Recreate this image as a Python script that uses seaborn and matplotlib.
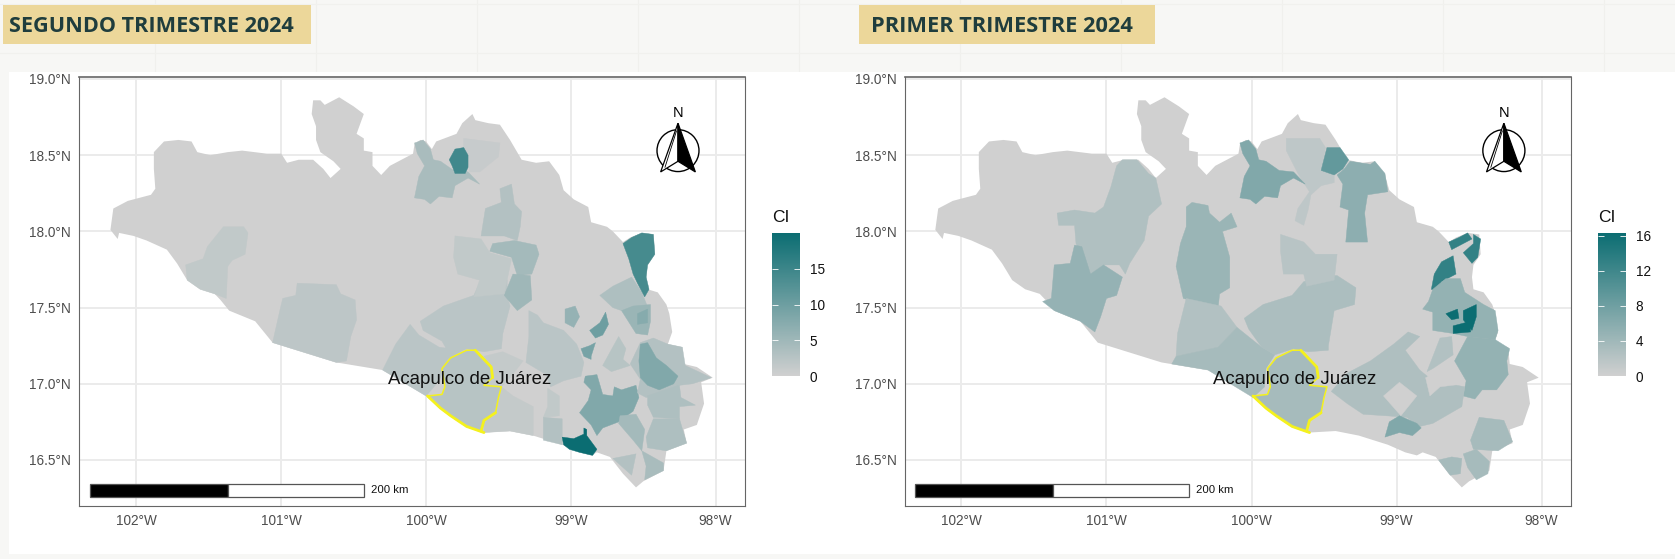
import numpy as np
import matplotlib
matplotlib.use("Agg")
import matplotlib.pyplot as plt
from matplotlib.patches import Rectangle, Polygon, Ellipse
from matplotlib.cm import ScalarMappable
from matplotlib.colors import Normalize
import seaborn as sns

# ---------- data (lon, lat) ----------
STATE = [(-102.18,18.01),(-102.16,18.15),(-102.06,18.20),(-101.90,18.24),(-101.87,18.28),(-101.88,18.41),(-101.88,18.52),(-101.81,18.59),(-101.71,18.60),(-101.62,18.59),(-101.58,18.52),(-101.49,18.50),(-101.37,18.52),(-101.27,18.53),(-101.10,18.51),(-101.0,18.51),(-100.96,18.45),(-100.88,18.47),(-100.78,18.47),(-100.71,18.41),(-100.66,18.35),(-100.59,18.41),(-100.64,18.46),(-100.73,18.52),(-100.76,18.60),(-100.76,18.69),(-100.79,18.77),(-100.78,18.86),(-100.73,18.86),(-100.70,18.83),(-100.60,18.88),(-100.50,18.82),(-100.43,18.77),(-100.48,18.64),(-100.43,18.61),(-100.43,18.53),(-100.37,18.52),(-100.37,18.43),(-100.31,18.37),(-100.25,18.43),(-100.09,18.51),(-100.08,18.57),(-100.04,18.60),(-100.0,18.59),(-99.96,18.54),(-99.93,18.59),(-99.79,18.64),(-99.75,18.71),(-99.68,18.77),(-99.66,18.73),(-99.57,18.71),(-99.49,18.70),(-99.42,18.60),(-99.34,18.47),(-99.24,18.45),(-99.15,18.46),(-99.08,18.37),(-99.05,18.27),(-98.98,18.21),(-98.88,18.16),(-98.86,18.06),(-98.75,18.03),(-98.71,18.0),(-98.64,17.93),(-98.59,17.96),(-98.51,17.99),(-98.43,17.98),(-98.42,17.85),(-98.47,17.78),(-98.48,17.70),(-98.47,17.62),(-98.40,17.60),(-98.34,17.52),(-98.32,17.46),(-98.30,17.34),(-98.33,17.26),(-98.23,17.24),(-98.22,17.13),(-98.13,17.11),(-98.02,17.04),(-98.10,17.01),(-98.08,16.87),(-98.13,16.73),(-98.22,16.70),(-98.20,16.61),(-98.34,16.56),(-98.36,16.43),(-98.50,16.36),(-98.55,16.32),(-98.64,16.41),(-98.73,16.52),(-98.82,16.55),(-98.86,16.53),(-98.94,16.55),(-99.06,16.60),(-99.26,16.66),(-99.42,16.69),(-99.60,16.68),(-99.72,16.72),(-99.83,16.79),(-99.90,16.84),(-100.0,16.92),(-100.30,17.09),(-100.62,17.14),(-101.06,17.27),(-101.18,17.41),(-101.36,17.48),(-101.42,17.55),(-101.46,17.59),(-101.56,17.62),(-101.65,17.68),(-101.72,17.79),(-101.79,17.88),(-101.93,17.94),(-102.02,17.97),(-102.12,17.99),(-102.13,17.95)]
ACAPULCO = [(-99.72,17.22),(-99.66,17.22),(-99.60,17.16),(-99.55,17.11),(-99.54,17.04),(-99.60,16.99),(-99.48,16.98),(-99.50,16.91),(-99.52,16.81),(-99.60,16.76),(-99.62,16.69),(-99.60,16.68),(-99.72,16.72),(-99.83,16.79),(-99.90,16.84),(-99.99,16.92),(-99.89,16.93),(-99.87,16.98),(-99.89,17.10),(-99.83,17.17)]
TOP = [(-100.08,18.58),(-100.02,18.60),(-99.97,18.54),(-99.95,18.47),(-99.90,18.46),(-99.81,18.40),(-99.71,18.39),(-99.63,18.31),(-99.71,18.35),(-99.80,18.30),(-99.82,18.22),(-99.91,18.23),(-99.97,18.18),(-100.01,18.21),(-100.08,18.22),(-100.05,18.36),(-100.01,18.43),(-100.06,18.51)]

# second quarter
L1 = [(-101.40,18.03),(-101.26,18.03),(-101.23,17.99),(-101.25,17.85),(-101.34,17.81),(-101.37,17.77),(-101.38,17.56),(-101.46,17.59),(-101.56,17.62),(-101.65,17.68),(-101.66,17.78),(-101.54,17.82),(-101.51,17.90)]
L2 = [(-101.06,17.27),(-101.01,17.48),(-100.99,17.56),(-100.90,17.58),(-100.89,17.66),(-100.62,17.65),(-100.59,17.59),(-100.49,17.55),(-100.48,17.42),(-100.52,17.31),(-100.55,17.15),(-100.62,17.14)]
L3 = [(-100.04,17.41),(-99.88,17.51),(-99.67,17.58),(-99.62,17.68),(-99.44,17.68),(-99.44,17.57),(-99.42,17.51),(-99.47,17.33),(-99.48,17.23),(-99.60,17.21),(-99.72,17.23),(-99.83,17.18),(-99.89,17.28),(-100.02,17.35)]
L4 = [(-100.30,17.09),(-100.21,17.26),(-100.11,17.39),(-100.05,17.32),(-99.91,17.24),(-99.75,17.22),(-99.85,17.16),(-99.91,17.02),(-100.0,16.92)]
L5 = [(-99.48,16.98),(-99.40,16.92),(-99.26,16.85),(-99.26,16.66),(-99.42,16.69),(-99.60,16.68),(-99.60,16.76),(-99.52,16.81),(-99.50,16.91)]
L6 = [(-99.60,17.18),(-99.47,17.21),(-99.33,17.15),(-99.42,17.04),(-99.48,16.98),(-99.60,16.99),(-99.54,17.04),(-99.55,17.11)]
L7 = [(-99.29,17.48),(-99.23,17.45),(-99.19,17.40),(-99.05,17.35),(-98.96,17.26),(-98.91,17.14),(-98.93,17.05),(-99.05,17.02),(-99.14,16.98),(-99.17,17.06),(-99.31,17.14),(-99.29,17.31)]
L8 = [(-99.16,16.97),(-99.08,16.92),(-99.08,16.79),(-99.19,16.78),(-99.16,16.85)]
L9 = [(-99.19,16.78),(-99.06,16.77),(-99.06,16.60),(-99.19,16.63)]
L10 = [(-99.06,16.65),(-98.98,16.64),(-98.91,16.67),(-98.91,16.71),(-98.89,16.70),(-98.89,16.66),(-98.82,16.57),(-98.85,16.53),(-98.94,16.55),(-99.01,16.57),(-99.05,16.60)]
L11 = [(-98.90,17.05),(-98.82,17.06),(-98.78,16.93),(-98.71,16.92),(-98.70,16.98),(-98.65,16.96),(-98.55,16.99),(-98.53,16.91),(-98.57,16.82),(-98.67,16.75),(-98.78,16.71),(-98.82,16.66),(-98.86,16.73),(-98.94,16.81),(-98.88,16.89),(-98.86,16.96),(-98.91,17.01)]
L_E1 = [(-98.59,17.13),(-98.52,17.27),(-98.43,17.30),(-98.33,17.26),(-98.23,17.24),(-98.21,17.12),(-98.03,17.04),(-98.16,17.0),(-98.25,16.99),(-98.39,16.93),(-98.48,16.91),(-98.54,16.94),(-98.52,17.03)]
L_OVAL = [(-98.52,17.26),(-98.47,17.27),(-98.41,17.17),(-98.34,17.12),(-98.26,17.05),(-98.29,17.0),(-98.39,16.96),(-98.47,16.99),(-98.52,17.04),(-98.53,17.15)]
L_E2 = [(-98.47,16.92),(-98.25,16.99),(-98.24,16.91),(-98.14,16.86),(-98.25,16.85),(-98.25,16.77),(-98.43,16.78),(-98.47,16.86)]
L_E3 = [(-98.43,16.77),(-98.25,16.77),(-98.20,16.61),(-98.34,16.56),(-98.47,16.58),(-98.48,16.65)]
L_E4 = [(-98.66,16.79),(-98.55,16.80),(-98.49,16.70),(-98.51,16.56),(-98.57,16.63),(-98.67,16.74)]
L_E5 = [(-98.51,16.56),(-98.36,16.48),(-98.36,16.43),(-98.49,16.37),(-98.48,16.46)]
L_E6 = [(-98.71,16.51),(-98.55,16.54),(-98.58,16.40)]
L_T1 = [(-98.80,17.58),(-98.71,17.64),(-98.58,17.70),(-98.51,17.60),(-98.46,17.48),(-98.65,17.48),(-98.71,17.50)]
L_C1 = [(-98.65,17.48),(-98.57,17.51),(-98.45,17.52),(-98.45,17.41),(-98.47,17.32),(-98.55,17.33),(-98.59,17.39)]
L_C2 = [(-98.54,17.46),(-98.47,17.49),(-98.47,17.40),(-98.54,17.39)]
L_STRIP = [(-98.64,17.92),(-98.58,17.96),(-98.51,17.99),(-98.43,17.98),(-98.42,17.85),(-98.47,17.78),(-98.48,17.70),(-98.46,17.62),(-98.49,17.57),(-98.54,17.66),(-98.57,17.72),(-98.60,17.82)]
L_BLOB = [(-99.04,17.49),(-98.97,17.51),(-98.94,17.44),(-98.98,17.37),(-99.04,17.40)]
L_D1 = [(-98.87,17.35),(-98.80,17.40),(-98.76,17.47),(-98.74,17.39),(-98.78,17.32),(-98.83,17.30)]
L_D2 = [(-98.93,17.23),(-98.87,17.25),(-98.83,17.27),(-98.86,17.18),(-98.86,17.16),(-98.91,17.18)]
L_TRI = [(-98.78,17.12),(-98.67,17.31),(-98.62,17.23),(-98.64,17.16),(-98.59,17.12),(-98.72,17.08)]
L_DARK = [(-99.84,18.47),(-99.80,18.54),(-99.74,18.55),(-99.71,18.50),(-99.71,18.42),(-99.73,18.38),(-99.80,18.38),(-99.82,18.43)]
L_PALE = [(-99.74,18.61),(-99.49,18.58),(-99.50,18.49),(-99.63,18.39),(-99.70,18.39),(-99.71,18.51),(-99.74,18.55)]
L_P1 = [(-99.49,18.28),(-99.41,18.31),(-99.39,18.18),(-99.34,18.13),(-99.35,18.03),(-99.37,17.94),(-99.46,17.97),(-99.62,17.97),(-99.59,18.15),(-99.48,18.19)]
L_P2 = [(-99.56,17.87),(-99.54,17.92),(-99.39,17.94),(-99.24,17.91),(-99.22,17.85),(-99.27,17.72),(-99.37,17.71),(-99.41,17.83)]
L_P3 = [(-99.40,17.72),(-99.28,17.71),(-99.27,17.55),(-99.37,17.48),(-99.46,17.58)]
L_P4 = [(-99.80,17.97),(-99.62,17.95),(-99.56,17.86),(-99.41,17.82),(-99.46,17.59),(-99.67,17.57),(-99.63,17.68),(-99.78,17.72),(-99.81,17.83)]

Q2_SHAPES = [L1,L2,L3,L4,L5,L6,L7,L8,L9,L10,L11,L_E1,L_OVAL,L_E2,L_E3,L_E4,L_E5,L_E6,L_T1,L_C1,L_C2,L_STRIP,L_BLOB,L_D1,L_D2,L_TRI,TOP,L_PALE,L_DARK,L_P1,L_P2,L_P3,L_P4,ACAPULCO]
Q2_VALUES = [1.5,2.0,2.2,2.2,1.2,1.2,2.2,1.5,3.0,20.0,8.0,3.0,8.0,3.5,3.5,4.5,4.0,3.0,3.5,5.5,7.5,14.0,6.0,10.0,9.0,2.5,4.0,1.0,14.5,3.0,4.5,5.0,1.5,2.5]

# first quarter
R1 = [(-101.34,18.12),(-101.22,18.14),(-101.08,18.12),(-101.02,18.16),(-100.97,18.29),(-100.93,18.43),(-100.89,18.47),(-100.79,18.47),(-100.71,18.38),(-100.66,18.35),(-100.62,18.18),(-100.71,18.10),(-100.74,17.94),(-100.84,17.79),(-100.87,17.72),(-100.91,17.78),(-101.02,17.78),(-101.11,17.72),(-101.21,17.92),(-101.22,18.04),(-101.33,18.04)]
R2 = [(-101.44,17.54),(-101.38,17.56),(-101.36,17.78),(-101.25,17.79),(-101.22,17.91),(-101.17,17.90),(-101.11,17.72),(-101.02,17.78),(-100.89,17.70),(-100.93,17.58),(-101.0,17.56),(-101.04,17.44),(-101.08,17.34),(-101.18,17.41),(-101.36,17.48)]
R3 = [(-100.45,18.16),(-100.41,18.19),(-100.30,18.17),(-100.29,18.12),(-100.22,18.06),(-100.14,18.12),(-100.10,18.03),(-100.20,18.0),(-100.15,17.83),(-100.15,17.63),(-100.22,17.59),(-100.23,17.50),(-100.47,17.56),(-100.52,17.77),(-100.49,17.92),(-100.45,18.03)]
R4 = [(-100.45,17.56),(-100.21,17.51),(-100.10,17.37),(-100.23,17.24),(-100.52,17.18),(-100.51,17.33)]
R5 = [(-100.52,17.18),(-100.23,17.24),(-100.10,17.37),(-99.93,17.24),(-99.84,17.19),(-99.90,17.10),(-99.91,16.98),(-99.99,16.91),(-100.30,17.09),(-100.55,17.13)]
R6 = [(-100.05,17.43),(-99.92,17.52),(-99.72,17.58),(-99.64,17.67),(-99.47,17.71),(-99.41,17.71),(-99.28,17.63),(-99.29,17.52),(-99.43,17.48),(-99.47,17.25),(-99.47,17.22),(-99.61,17.21),(-99.71,17.23),(-99.84,17.19),(-99.93,17.24),(-100.02,17.36)]
R7 = [(-99.80,17.98),(-99.64,17.93),(-99.56,17.85),(-99.41,17.85),(-99.43,17.68),(-99.62,17.64),(-99.64,17.72),(-99.78,17.72),(-99.80,17.87)]
R9 = [(-99.76,18.61),(-99.53,18.61),(-99.49,18.55),(-99.51,18.42),(-99.43,18.37),(-99.43,18.32),(-99.52,18.30),(-99.59,18.24),(-99.61,18.14),(-99.64,18.04),(-99.70,18.07),(-99.68,18.15),(-99.60,18.26),(-99.68,18.38),(-99.76,18.53)]
R10 = [(-99.48,18.55),(-99.39,18.55),(-99.33,18.47),(-99.37,18.41),(-99.43,18.37),(-99.52,18.40)]
R11 = [(-99.32,18.46),(-99.18,18.44),(-99.15,18.46),(-99.08,18.38),(-99.06,18.26),(-99.20,18.24),(-99.22,18.12),(-99.20,17.93),(-99.35,17.93),(-99.33,18.14),(-99.39,18.16),(-99.37,18.31),(-99.41,18.37),(-99.36,18.41)]
R_A = [(-98.64,17.93),(-98.57,17.96),(-98.51,17.99),(-98.48,17.95),(-98.54,17.92),(-98.62,17.88)]
R_B = [(-98.47,17.98),(-98.42,17.95),(-98.44,17.83),(-98.48,17.79),(-98.54,17.86),(-98.47,17.92)]
R_C = [(-98.69,17.80),(-98.61,17.84),(-98.59,17.72),(-98.69,17.67),(-98.72,17.61),(-98.76,17.62),(-98.74,17.72)]
R_T1 = [(-98.82,17.49),(-98.78,17.54),(-98.75,17.62),(-98.66,17.69),(-98.56,17.69),(-98.53,17.60),(-98.40,17.52),(-98.32,17.48),(-98.30,17.35),(-98.32,17.29),(-98.51,17.31),(-98.61,17.33),(-98.75,17.35),(-98.75,17.47)]
R_D1 = [(-98.66,17.46),(-98.58,17.49),(-98.57,17.43),(-98.62,17.42)]
R_D2 = [(-98.54,17.48),(-98.45,17.52),(-98.45,17.44),(-98.48,17.35),(-98.54,17.42)]
R_D3 = [(-98.61,17.38),(-98.49,17.41),(-98.49,17.34),(-98.61,17.33)]
R_T2 = [(-98.60,17.15),(-98.51,17.31),(-98.32,17.29),(-98.22,17.23),(-98.24,17.15),(-98.23,17.06),(-98.31,16.96),(-98.41,16.96),(-98.46,16.90),(-98.54,16.92),(-98.52,17.02)]
R_S = [(-98.79,17.08),(-98.70,17.30),(-98.62,17.31),(-98.61,17.19),(-98.75,17.10)]
R_BIG = [(-99.45,16.95),(-99.34,17.07),(-99.18,17.15),(-99.02,17.26),(-98.92,17.34),(-98.84,17.31),(-98.94,17.22),(-98.84,17.09),(-98.75,17.02),(-98.53,16.98),(-98.55,16.85),(-98.75,16.74),(-98.84,16.72),(-98.93,16.78),(-99.07,16.79),(-99.23,16.80),(-99.34,16.87)]
R_DIAMOND = [(-99.09,16.92),(-98.98,17.01),(-98.86,16.92),(-98.97,16.79)]
R_GAP = [(-98.80,17.04),(-98.63,17.12),(-98.53,17.0),(-98.70,16.98),(-98.77,16.92)]
R_BLOB = [(-99.08,16.65),(-99.05,16.75),(-98.98,16.79),(-98.86,16.74),(-98.83,16.71),(-98.89,16.66),(-98.98,16.68)]
R_L1 = [(-98.49,16.63),(-98.43,16.78),(-98.26,16.76),(-98.20,16.62),(-98.30,16.56),(-98.47,16.57)]
R_L2 = [(-98.54,16.54),(-98.45,16.57),(-98.36,16.49),(-98.37,16.41),(-98.45,16.37),(-98.51,16.45)]
R_L3 = [(-98.71,16.50),(-98.62,16.52),(-98.55,16.51),(-98.56,16.41),(-98.63,16.40)]

Q1_SHAPES = [R1,R2,R3,R4,R5,R6,R7,R9,TOP,R10,R11,R_A,R_B,R_C,R_T1,R_D1,R_D2,R_D3,R_T2,R_S,R_BIG,R_DIAMOND,R_GAP,R_BLOB,R_L1,R_L2,R_L3,ACAPULCO]
Q1_VALUES = [2.7,4.9,4.5,2.5,3.5,3.0,2.0,1.5,6.5,9.0,5.6,13.0,13.0,13.0,5.0,16.3,16.3,16.3,5.0,2.5,2.8,0.0,0.0,6.5,3.5,3.5,3.5,3.5]

TITLES = ["SEGUNDO TRIMESTRE 2024", "PRIMER TRIMESTRE 2024"]
MAX_CI = [20.0, 16.3]
CBAR_TICKS = [[0, 5, 10, 15], [0, 4, 8, 12, 16]]
LON_TICKS = [-102, -101, -100, -99, -98]
LAT_TICKS = [16.5, 17.0, 17.5, 18.0, 18.5, 19.0]
PLACE = "Acapulco de Juárez"

# ---------- figure ----------
sns.set_theme(style="whitegrid")
plt.rcParams["font.family"] = ["Liberation Sans", "DejaVu Sans"]
W, H = 1675, 559
PAGE = "#f7f7f5"
fig = plt.figure(figsize=(W / 100, H / 100), dpi=100, facecolor=PAGE)
LOW, HIGH = "#d0d0d0", "#0b6d72"
cmap = sns.blend_palette([LOW, HIGH], as_cmap=True)


def fx(px):
    return px / W


def fy(py):
    return 1 - py / H


def fig_box(x0, y0, x1, y1, color, z=0):
    fig.add_artist(Rectangle((fx(x0), fy(y1)), (x1 - x0) / W, (y1 - y0) / H,
                             transform=fig.transFigure, fc=color, ec="none", zorder=z))


# page texture lines and white sheet
for px in range(155, W, 161):
    fig.add_artist(plt.Line2D([fx(px)] * 2, [fy(72), 1], color="#f0f0ed", lw=0.8, zorder=0))
for py in (4, 53):
    fig.add_artist(plt.Line2D([0, 1], [fy(py)] * 2, color="#f1f1ee", lw=0.8, zorder=0))
fig_box(9, 72, W, 554, "white")
fig_box(3, 5, 311, 44, "#ecd79a")
fig_box(859, 5, 1155, 44, "#ecd79a")
fig.text(fx(9), fy(32), TITLES[0], ha="left", va="baseline", fontsize=15.6, fontweight="bold",
         family="Open Sans", color="#1f3d3d", zorder=5)
fig.text(fx(871), fy(32), TITLES[1], ha="left", va="baseline", fontsize=15.7, fontweight="bold",
         family="Open Sans", color="#1f3d3d", zorder=5)


def panel(ax_px, xlim, shapes, values, vmax, cbar_px, ticks):
    x0, x1, y0, y1 = ax_px
    ax = fig.add_axes([fx(x0), fy(y1), (x1 - x0) / W, (y1 - y0) / H], zorder=2)
    ax.set_xlim(*xlim)
    ax.set_ylim(16.198, 19.013)
    ax.set_facecolor("white")
    ax.grid(True, color="#ebebeb", lw=1.4)
    ax.set_axisbelow(True)
    for s in ax.spines.values():
        s.set_color("#666666")
        s.set_linewidth(0.8)
    ax.spines["top"].set_linewidth(1.2)
    ax.set_xticks(LON_TICKS, [f"{abs(v)}°W" for v in LON_TICKS])
    ax.set_yticks(LAT_TICKS, [f"{v:.1f}°N" for v in LAT_TICKS])
    ax.tick_params(length=3.5, width=0.8, color="#333333", labelcolor="#4d4d4d", labelsize=9.8, pad=2.5)

    norm = Normalize(0, vmax)
    ax.add_patch(Polygon(STATE, closed=True, fc=LOW, ec="none", zorder=3))
    for shape, val in zip(shapes, values):
        is_aca = shape is ACAPULCO
        ax.add_patch(Polygon(shape, closed=True, fc=cmap(norm(val)), ec="none" if is_aca else cmap(norm(val)),
                             lw=0.3, zorder=3.2))
    ax.add_patch(Polygon(ACAPULCO, closed=True, fc="none", ec="#f4f11e", lw=1.1, zorder=4, joinstyle="round"))
    # the heavier runs of the yellow boundary: north-east edge and coast
    for part in (ACAPULCO[1:5], ACAPULCO[8:11], ACAPULCO[11:16]):
        lon, lat = zip(*part)
        ax.plot(lon, lat, color="#f4f11e", lw=2.0, zorder=4.1, solid_capstyle="round")
    ax.text(-99.70, 17.03, PLACE, ha="center", va="center", fontsize=13.4, color="#111111", zorder=5)

    # scale bar
    ax.add_patch(Rectangle((-102.32, 16.26), 0.95, 0.08, fc="black", ec="#555555", lw=0.9, zorder=5))
    ax.add_patch(Rectangle((-101.37, 16.26), 0.94, 0.08, fc="white", ec="#555555", lw=0.9, zorder=5))
    ax.text(-100.38, 16.30, "200 km", ha="left", va="center", fontsize=8.2, color="#111111", zorder=5)

    # north arrow
    ax.add_patch(Ellipse((-98.26, 18.53), 0.29, 0.275, fc="white", ec="black", lw=1.0, zorder=5))
    ax.add_patch(Polygon([(-98.26, 18.71), (-98.38, 18.39), (-98.26, 18.46)], closed=True, fc="white", ec="black", lw=0.9, zorder=6))
    ax.plot([-98.27, -98.35], [18.66, 18.42], color="black", lw=0.6, zorder=7)
    ax.add_patch(Polygon([(-98.26, 18.71), (-98.14, 18.39), (-98.26, 18.46)], closed=True, fc="black", ec="black", lw=0.9, zorder=6))
    ax.text(-98.262, 18.775, "N", ha="center", va="center", fontsize=10.5, color="black", zorder=6)

    # legend bar
    cx0, cx1, cy0, cy1 = cbar_px
    cax = fig.add_axes([fx(cx0), fy(cy1), (cx1 - cx0) / W, (cy1 - cy0) / H], zorder=2)
    cb = fig.colorbar(ScalarMappable(norm=norm, cmap=cmap), cax=cax)
    cb.outline.set_visible(False)
    cb.set_ticks(ticks)
    cax.tick_params(length=0, labelsize=9.8, labelcolor="#111111", pad=7)
    cax.grid(False)
    cax.hlines(ticks, 0, 0.2, color="white", lw=0.6)
    cax.hlines(ticks, 0.8, 1, color="white", lw=0.6)
    fig.text(fx(cx0), fy(cy0 - 16), "CI", ha="left", va="center", fontsize=12.5, color="#111111", zorder=5)


panel((79.3, 744.6, 77, 506), (-102.395, -97.80), Q2_SHAPES, Q2_VALUES, MAX_CI[0], (772, 800, 233, 376), CBAR_TICKS[0])
panel((905, 1570.6, 77, 506), (-102.389, -97.80), Q1_SHAPES, Q1_VALUES, MAX_CI[1], (1598, 1626, 233, 376), CBAR_TICKS[1])

fig.savefig("out.png", dpi=100, facecolor=fig.get_facecolor())
